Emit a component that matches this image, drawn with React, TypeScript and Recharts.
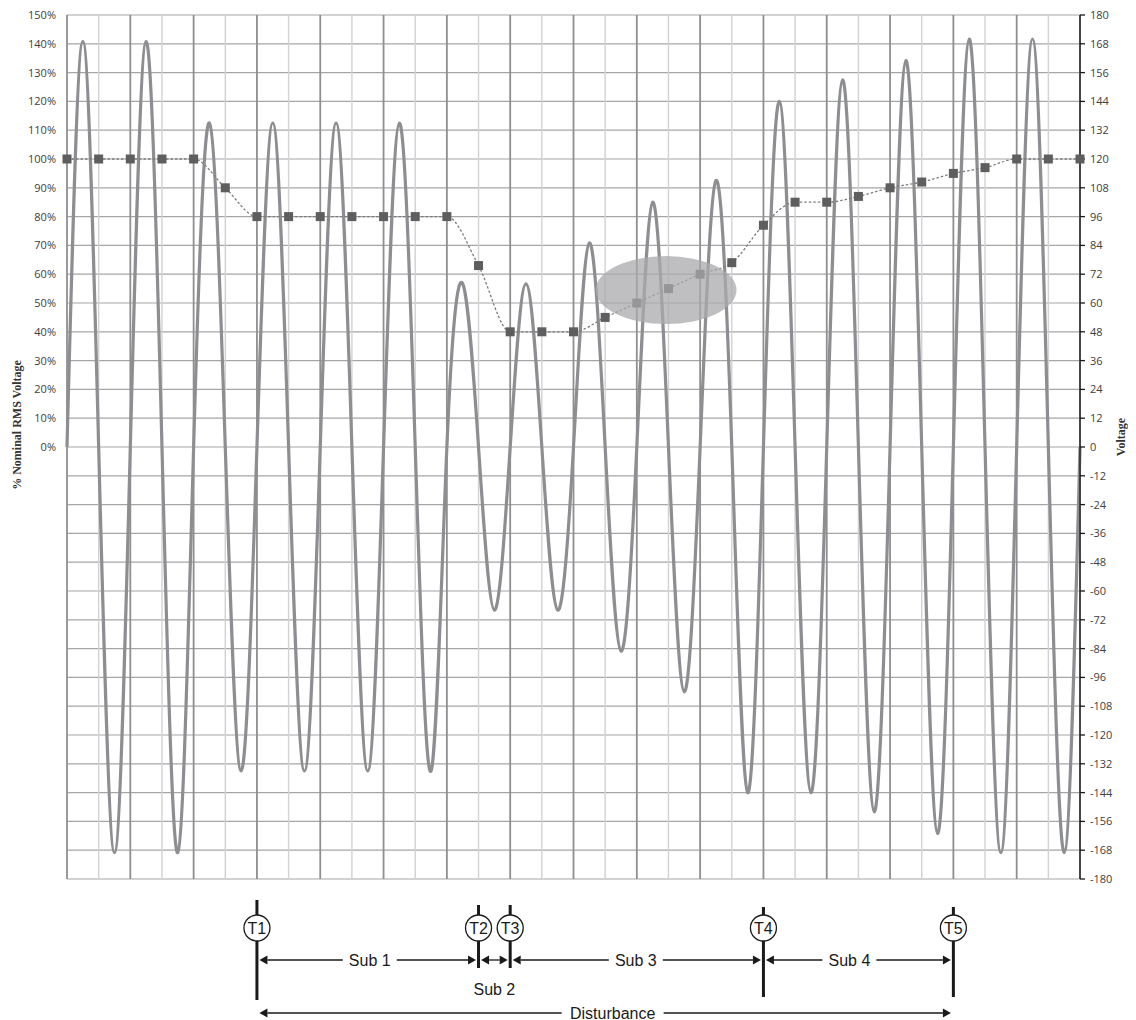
import {
  ComposedChart,
  Line,
  XAxis,
  YAxis,
  CartesianGrid,
  ReferenceLine,
  ReferenceArea,
  ReferenceDot,
} from "recharts"

// peak voltage of every half cycle, left to right
const halfCyclePeaks = [
  169, -169, 169, -169,
  135, -135, 135, -135, 135, -135, 135, -135,
  68, -68, 68, -68,
  85, -85, 102, -102,
  111, -144, 144, -144,
  153, -152, 161, -161,
  170, -169, 170, -169,
]

// RMS voltage in % of nominal, sampled at every half cycle boundary
const rmsPercent = [
  100, 100, 100, 100, 100, 90, 80, 80, 80, 80, 80, 80, 80, 63, 40, 40, 40,
  45, 50, 55, 60, 64, 77, 85, 85, 87, 90, 92, 95, 97, 100, 100, 100,
]

const percentTicks = [
  -150, -140, -130, -120, -110, -100, -90, -80, -70, -60, -50, -40, -30, -20, -10,
  0, 10, 20, 30, 40, 50, 60, 70, 80, 90, 100, 110, 120, 130, 140, 150,
]
const voltageTicks = [
  -180, -168, -156, -144, -132, -120, -108, -96, -84, -72, -60, -48, -36, -24, -12,
  0, 12, 24, 36, 48, 60, 72, 84, 96, 108, 120, 132, 144, 156, 168, 180,
]

const markerLabels = ["T1", "T2", "T3", "T4", "T5"]
const markerAt = [6, 13, 14, 22, 28]
const subLabels = ["Sub 1", "Sub 2", "Sub 3", "Sub 4"]
const disturbanceLabel = "Disturbance"

// shaded region around the recovering RMS points
const highlightX = [16.7, 21.15]
const highlightPct = [42.7, 66.3]

const waveData: { t: number; v: number }[] = [{ t: 0, v: 0 }]
halfCyclePeaks.forEach((p, i) => {
  waveData.push({ t: i + 0.5, v: p }, { t: i + 1, v: 0 })
})
const rmsData = rmsPercent.map((p, i) => ({ t: i, rms: p }))
const gridSteps = rmsPercent.map((_, i) => i)

const W = 1120
const LEFT_W = 59
const RIGHT_W = 48
const TICK_FONT = "'Open Sans', 'Liberation Sans', sans-serif"
const TITLE_FONT = "'Liberation Serif', serif"
const ANN_FONT = "'Liberation Sans', Arial, sans-serif"
const INK = "#1a1a1a"

// annotation strip layout (px from top of strip)
const ANN = { circleY: 40, r: 13, subY: 72, sub2Y: 101, disturbY: 125 }
const markerSpan = [[12, 112], [17, 80], [17, 80], [19, 109], [19, 109]]
const subLabelShift = [2, 0, -1, -9]

const leftTitle = (props: any) => {
  const vb = props.viewBox
  const x = vb.x + 9
  const y = vb.y + vb.height / 2 - 22
  return (
    <text x={x} y={y} transform={`rotate(-90 ${x} ${y})`} textAnchor="middle" dominantBaseline="central"
      fontFamily={TITLE_FONT} fontWeight="bold" fontSize={12} fill="#333">
      % Nominal RMS Voltage
    </text>
  )
}

const rightTitle = (props: any) => {
  const vb = props.viewBox
  const x = vb.x + 41
  const y = vb.y + vb.height / 2 - 10
  return (
    <text x={x} y={y} transform={`rotate(-90 ${x} ${y})`} textAnchor="middle" dominantBaseline="central"
      fontFamily={TITLE_FONT} fontWeight="bold" fontSize={12} fill="#333">
      Voltage
    </text>
  )
}

const square = (p: any) => (
  <rect key={`sq-${p.index}`} x={p.cx - 4.5} y={p.cy - 4.5} width={9} height={9} fill="#5e5e5e" />
)

const ellipse = (p: any) => (
  <ellipse cx={p.x + p.width / 2} cy={p.y + p.height / 2} rx={p.width / 2} ry={p.height / 2}
    fill="#a9a9ad" fillOpacity={0.75} />
)

function arrowShape(label: string, inline: boolean, shift: number) {
  return (p: any) => {
    const y = p.y1
    const a = Math.min(p.x1, p.x2) + 2.5
    const b = Math.max(p.x1, p.x2) - 2.5
    const head = 8
    const hw = 4.5
    const mid = (a + b) / 2 + shift
    const half = label.length * 4 + 7
    const segs = inline ? [[a + head, mid - half], [mid + half, b - head]] : [[a + head, b - head]]
    return (
      <g>
        {segs.map(([s, e], i) => (
          <line key={i} x1={s} y1={y} x2={e} y2={y} stroke={INK} strokeWidth={1.3} />
        ))}
        <polygon points={`${a},${y} ${a + head},${y - hw} ${a + head},${y + hw}`} fill={INK} />
        <polygon points={`${b},${y} ${b - head},${y - hw} ${b - head},${y + hw}`} fill={INK} />
        {inline && (
          <text x={mid} y={y} textAnchor="middle" dominantBaseline="central" fontFamily={ANN_FONT}
            fontSize={16} fill={INK}>
            {label}
          </text>
        )}
      </g>
    )
  }
}

export default function App() {
  return (
    <div style={{ width: W }}>
      <ComposedChart width={W} height={880} margin={{ top: 7, right: 0, bottom: 9, left: 0 }}>
        <XAxis type="number" dataKey="t" domain={[0, 32]} hide />
        <YAxis
          yAxisId="pct"
          domain={[-150, 150]}
          ticks={percentTicks}
          interval={0}
          width={LEFT_W}
          axisLine={false}
          tickLine={false}
          tickSize={6}
          tickMargin={5}
          tickFormatter={(v: number) => (v >= 0 ? `${v}%` : "")}
          tick={{ fontSize: 11, fill: "#404040", fontFamily: TICK_FONT }}
          label={leftTitle}
        />
        <YAxis
          yAxisId="volt"
          orientation="right"
          domain={[-180, 180]}
          ticks={voltageTicks}
          interval={0}
          width={RIGHT_W}
          axisLine={{ stroke: INK, strokeWidth: 1.3 }}
          tickLine={{ stroke: INK, strokeWidth: 1.3 }}
          tickSize={5}
          tickMargin={5}
          tick={{ fontSize: 11, fill: "#404040", fontFamily: TICK_FONT, textAnchor: "start" }}
          label={rightTitle}
        />
        <CartesianGrid yAxisId="volt" vertical={false} stroke="#a6a6a6" strokeWidth={1.2} />
        {gridSteps.map((s) => (
          <ReferenceLine
            key={`g-${s}`}
            yAxisId="volt"
            x={s}
            stroke={s % 2 === 0 ? "#8f8f8f" : "#d2d2d2"}
            strokeWidth={s % 2 === 0 ? 1.8 : 1.4}
          />
        ))}
        <Line
          yAxisId="volt"
          data={waveData}
          dataKey="v"
          type="natural"
          stroke="#8d8e92"
          strokeWidth={3.2}
          dot={false}
          activeDot={false}
          isAnimationActive={false}
        />
        <Line
          yAxisId="pct"
          data={rmsData}
          dataKey="rms"
          type="monotone"
          stroke="#7c7c7c"
          strokeWidth={1.3}
          strokeDasharray="2.5 2"
          dot={square}
          activeDot={false}
          isAnimationActive={false}
        />
        <ReferenceArea
          yAxisId="pct"
          x1={highlightX[0]}
          x2={highlightX[1]}
          y1={highlightPct[0]}
          y2={highlightPct[1]}
          shape={ellipse}
          zIndex={900}
        />
      </ComposedChart>

      <ComposedChart width={W} height={132} data={rmsData} margin={{ top: 0, right: RIGHT_W, bottom: 0, left: LEFT_W }}>
        <XAxis type="number" dataKey="t" domain={[0, 32]} hide />
        <YAxis yAxisId="ann" domain={[0, 132]} reversed hide allowDataOverflow />
        {markerAt.flatMap((m, i) => [
          <ReferenceLine
            key={`mt-${i}`}
            yAxisId="ann"
            segment={[{ x: m, y: markerSpan[i][0] }, { x: m, y: ANN.circleY - ANN.r }]}
            stroke={INK}
            strokeWidth={3}
          />,
          <ReferenceLine
            key={`mb-${i}`}
            yAxisId="ann"
            segment={[{ x: m, y: ANN.circleY + ANN.r }, { x: m, y: markerSpan[i][1] }]}
            stroke={INK}
            strokeWidth={3}
          />,
        ])}
        {subLabels.map((lab, i) => (
          <ReferenceLine
            key={`sub-${i}`}
            yAxisId="ann"
            segment={[{ x: markerAt[i], y: ANN.subY }, { x: markerAt[i + 1], y: ANN.subY }]}
            shape={arrowShape(lab, markerAt[i + 1] - markerAt[i] > 2, subLabelShift[i])}
          />
        ))}
        <ReferenceDot
          yAxisId="ann"
          x={(markerAt[1] + markerAt[2]) / 2}
          y={ANN.sub2Y}
          r={0}
          fill="none"
          stroke="none"
          label={{ value: subLabels[1], position: "center", fontSize: 16, fill: INK, fontFamily: ANN_FONT }}
        />
        <ReferenceLine
          yAxisId="ann"
          segment={[{ x: markerAt[0], y: ANN.disturbY }, { x: markerAt[4], y: ANN.disturbY }]}
          shape={arrowShape(disturbanceLabel, true, 7.5)}
        />
        {markerAt.map((m, i) => (
          <ReferenceDot
            key={`c-${i}`}
            yAxisId="ann"
            x={m}
            y={ANN.circleY}
            r={ANN.r}
            fill="#fff"
            stroke={INK}
            strokeWidth={1.3}
            label={{ value: markerLabels[i], position: "center", fontSize: 16, fill: INK, fontFamily: ANN_FONT }}
          />
        ))}
      </ComposedChart>
    </div>
  )
}
